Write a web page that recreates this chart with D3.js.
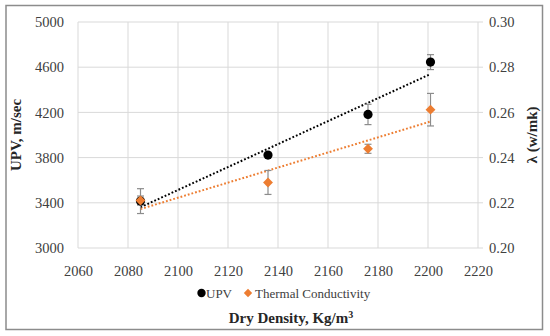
<!DOCTYPE html>
<html>
<head>
<meta charset="utf-8">
<script src="https://cdn.jsdelivr.net/npm/d3@7"></script>
<style>
  body { margin: 0; background: #fff; }
  svg, svg text { font-family: "Liberation Serif", "Times New Roman", serif; }
</style>
</head>
<body>
<div id="chart"></div>
<script>
// data
const density = [2085, 2136, 2176, 2201];
const upv = [3415, 3822, 4182, 4645];
const upvErr = [110, 15, 90, 66];
const lambda = [0.221, 0.229, 0.2439, 0.2612];
const lambdaErr = [0.002, 0.0053, 0.002, 0.0072];
const xTicks = [2060, 2080, 2100, 2120, 2140, 2160, 2180, 2200, 2220];
const yTicks = [3000, 3400, 3800, 4200, 4600, 5000];
const y2Ticks = [0.20, 0.22, 0.24, 0.26, 0.28, 0.30];

const width = 550, height = 336;
const plot = {left: 78, right: 478, top: 22, bottom: 248};

const svg = d3.select('#chart').append('svg')
    .attr('width', width)
    .attr('height', height);

// outer border
svg.append('rect')
    .attr('x', 6).attr('y', 5.5)
    .attr('width', 536.5).attr('height', 324)
    .attr('fill', '#fff')
    .attr('stroke', '#8c8c8c')
    .attr('stroke-width', 1.5);

const x = d3.scaleLinear().domain([2060, 2220]).range([plot.left, plot.right]);
const y = d3.scaleLinear().domain([3000, 5000]).range([plot.bottom, plot.top]);
const y2 = d3.scaleLinear().domain([0.20, 0.30]).range([plot.bottom, plot.top]);

// gridlines
svg.append('g')
    .selectAll('line')
    .data(xTicks)
    .join('line')
    .attr('x1', d => x(d)).attr('x2', d => x(d))
    .attr('y1', plot.top).attr('y2', plot.bottom)
    .attr('stroke', '#d9d9d9');

svg.append('g')
    .selectAll('line')
    .data(yTicks)
    .join('line')
    .attr('x1', plot.left).attr('x2', plot.right + 5)
    .attr('y1', d => y(d)).attr('y2', d => y(d))
    .attr('stroke', '#d9d9d9');

// axes (labels only)
const tickFont = g => g
    .attr('font-family', '"Liberation Serif", serif')
    .attr('font-size', 14.5)
    .selectAll('text')
    .attr('fill', '#404040');

svg.append('g')
    .attr('transform', `translate(0,${plot.bottom})`)
    .call(d3.axisBottom(x).tickValues(xTicks).tickFormat(d3.format('d')).tickSize(0).tickPadding(18))
    .call(g => g.select('.domain').remove())
    .call(tickFont);

svg.append('g')
    .attr('transform', `translate(${plot.left},0)`)
    .call(d3.axisLeft(y).tickValues(yTicks).tickFormat(d3.format('d')).tickSize(0).tickPadding(14))
    .call(g => g.select('.domain').remove())
    .call(tickFont);

svg.append('g')
    .attr('transform', `translate(${plot.right},0)`)
    .call(d3.axisRight(y2).tickValues(y2Ticks).tickFormat(d3.format('.2f')).tickSize(0).tickPadding(11))
    .call(g => g.select('.domain').remove())
    .call(tickFont);

// linear trendlines
function fit(xs, ys) {
    const mx = d3.mean(xs), my = d3.mean(ys);
    const sxy = d3.sum(xs, (v, i) => (v - mx) * (ys[i] - my));
    const sxx = d3.sum(xs, v => (v - mx) * (v - mx));
    const b = sxy / sxx;
    return v => my + b * (v - mx);
}
const x0 = density[0], x1 = density[density.length - 1];
const fU = fit(density, upv), fL = fit(density, lambda);

svg.append('line')
    .attr('x1', x(x0)).attr('y1', y(fU(x0)))
    .attr('x2', x(x1)).attr('y2', y(fU(x1)))
    .attr('stroke', '#000').attr('stroke-width', 2)
    .attr('stroke-dasharray', '1.8,2');

svg.append('line')
    .attr('x1', x(x0)).attr('y1', y2(fL(x0)))
    .attr('x2', x(x1)).attr('y2', y2(fL(x1)))
    .attr('stroke', '#ed7d31').attr('stroke-width', 2)
    .attr('stroke-dasharray', '1.8,2');

// error bars
function errBars(vals, errs, scale) {
    const g = svg.append('g').attr('stroke', '#8c8c8c').attr('stroke-width', 1.2);
    density.forEach((d, i) => {
        const cx = x(d), top = scale(vals[i] + errs[i]), bot = scale(vals[i] - errs[i]);
        g.append('line').attr('x1', cx).attr('x2', cx).attr('y1', top).attr('y2', bot);
        g.append('line').attr('x1', cx - 3.5).attr('x2', cx + 3.5).attr('y1', top).attr('y2', top);
        g.append('line').attr('x1', cx - 3.5).attr('x2', cx + 3.5).attr('y1', bot).attr('y2', bot);
    });
}
errBars(upv, upvErr, y);
errBars(lambda, lambdaErr, y2);

// markers
svg.append('g')
    .selectAll('circle')
    .data(upv)
    .join('circle')
    .attr('cx', (d, i) => x(density[i]))
    .attr('cy', d => y(d))
    .attr('r', 4.6)
    .attr('fill', '#000');

const diamond = d3.symbol().type(d3.symbolDiamond2).size(62);
svg.append('g')
    .selectAll('path')
    .data(lambda)
    .join('path')
    .attr('d', diamond)
    .attr('transform', (d, i) => `translate(${x(density[i])},${y2(d)})`)
    .attr('fill', '#ed7d31');

// axis titles
svg.append('text')
    .attr('transform', `translate(21,${(plot.top + plot.bottom) / 2}) rotate(-90)`)
    .attr('text-anchor', 'middle')
    .style('font-size', '15px')
    .style('font-weight', 'bold')
    .attr('fill', '#262626')
    .text('UPV, m/sec');

svg.append('text')
    .attr('transform', `translate(537,${(plot.top + plot.bottom) / 2}) rotate(-90)`)
    .attr('text-anchor', 'middle')
    .style('font-size', '15px')
    .style('font-weight', 'bold')
    .attr('fill', '#262626')
    .text('λ (w/mk)');

const xt = svg.append('text')
    .attr('x', 291).attr('y', 323)
    .attr('text-anchor', 'middle')
    .style('font-size', '15px')
    .style('font-weight', 'bold')
    .attr('fill', '#262626');
xt.append('tspan').text('Dry Density, Kg/m');
xt.append('tspan').attr('dy', -5).style('font-size', '10px').text('3');

// legend
const leg = svg.append('g').style('font-size', '13px').attr('fill', '#404040');
leg.append('circle').attr('cx', 201.5).attr('cy', 293).attr('r', 4.2).attr('fill', '#000');
leg.append('text').attr('x', 206).attr('y', 297.5).text('UPV');
leg.append('path').attr('d', d3.symbol().type(d3.symbolDiamond2).size(45)).attr('transform', 'translate(248,293)').attr('fill', '#ed7d31');
leg.append('text').attr('x', 255).attr('y', 297.5).text('Thermal Conductivity');
</script>
</body>
</html>
